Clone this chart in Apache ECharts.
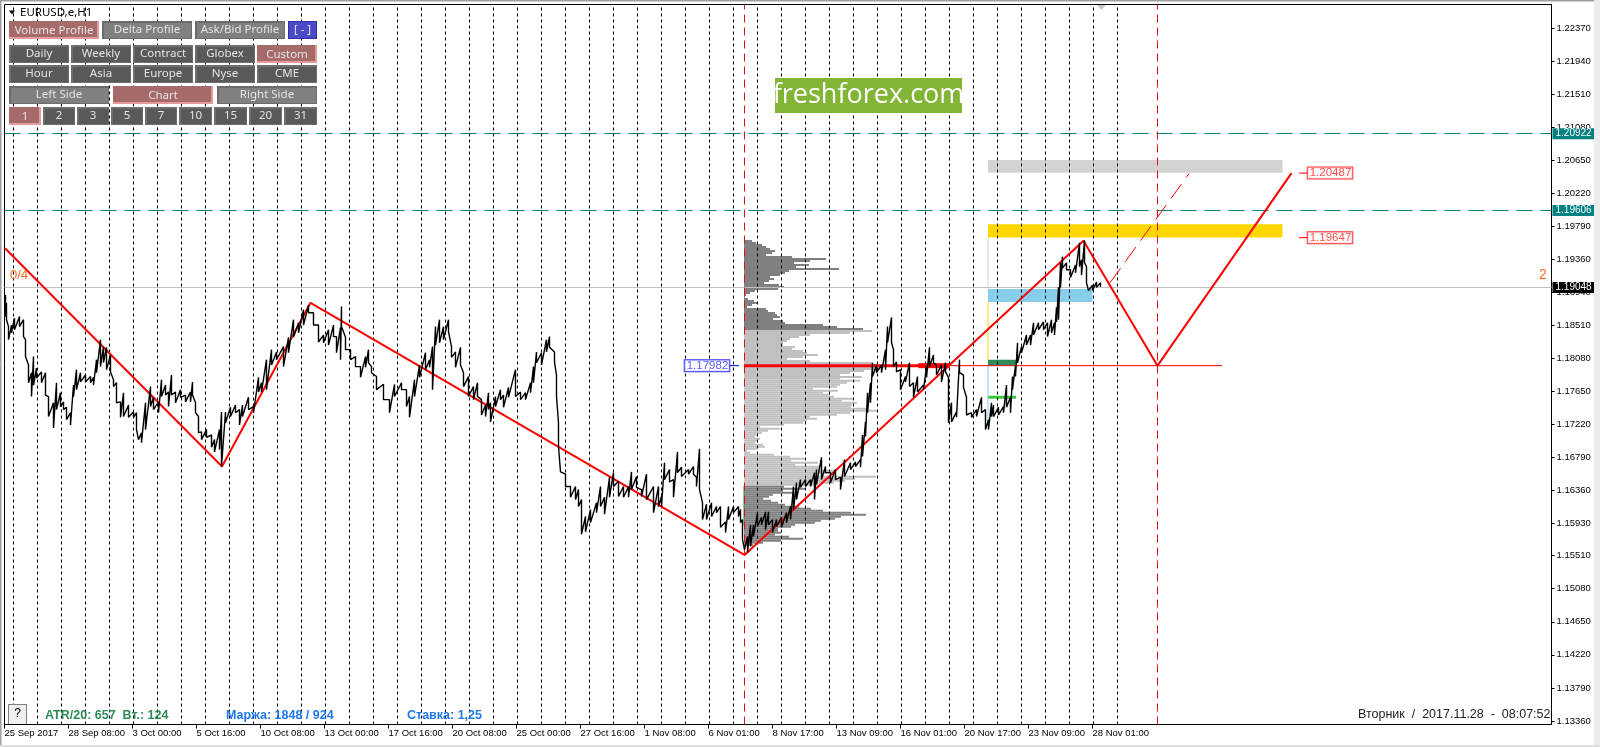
<!DOCTYPE html>
<html><head><meta charset="utf-8">
<style>html,body{margin:0;padding:0;background:#fff}#c{width:1600px;height:747px}</style>
<script src="https://cdn.jsdelivr.net/npm/echarts@6/dist/echarts.min.js"></script>
</head><body><div id="c"></div>
<script>
const priceTicks=[1.2237,1.2194,1.2151,1.2108,1.2065,1.2022,1.1979,1.1936,1.1894,1.1851,1.1808,1.1765,1.1722,1.1679,1.1636,1.1593,1.1551,1.1508,1.1465,1.1422,1.1379,1.1336];
const dateTickBars=[0,64,128,192,256,320,384,448,512,576,640,704,768,832,896,960,1024,1088];
const dateTickLabels=["25 Sep 2017","28 Sep 08:00","3 Oct 00:00","5 Oct 16:00","10 Oct 08:00","13 Oct 00:00","17 Oct 16:00","20 Oct 08:00","25 Oct 00:00","27 Oct 16:00","1 Nov 08:00","6 Nov 01:00","8 Nov 17:00","13 Nov 09:00","16 Nov 01:00","20 Nov 17:00","23 Nov 09:00","28 Nov 01:00"];
const dayBars=[8.5,32.5,56.5,80.5,104.5,128.5,152.5,176.5,200.5,224.5,248.5,272.5,296.5,320.5,344.5,368.5,392.5,416.5,440.5,464.5,488.5,512.5,536.5,560.5,584.5,608.5,632.5,656.5,680.5,704.5,728.5,752.5,776.5,800.5,824.5,848.5,872.5,896.5,920.5,944.5,968.5,992.5,1016.5,1040.5,1064.5,1088.5,1112.5];
// bar, high, low (hourly price, sampled)
const priceBars=[[1,1.1890,1.1862],[2,1.1880,1.1858],[4,1.1849,1.1832],[7,1.1851,1.1841],[10,1.1860,1.1845],[15,1.1862,1.1849],[19,1.1858,1.1836],[21,1.1832,1.1810],[24,1.1799,1.1776],[27,1.1789,1.1758],[29,1.1810,1.1773],[32,1.1795,1.1782],[37,1.1790,1.1776],[41,1.1789,1.1760],[44,1.1758,1.1732],[49,1.1750,1.1717],[52,1.1776,1.1741],[56,1.1763,1.1745],[59,1.1751,1.1741],[62,1.1744,1.1728],[66,1.1737,1.1721],[69,1.1773,1.1758],[72,1.1793,1.1767],[76,1.1789,1.1777],[81,1.1786,1.1777],[86,1.1784,1.1776],[89,1.1783,1.1773],[92,1.1806,1.1789],[96,1.1832,1.1797],[99,1.1823,1.1802],[102,1.1822,1.1793],[106,1.1812,1.1790],[109,1.1780,1.1771],[112,1.1776,1.1750],[116,1.1751,1.1731],[119,1.1763,1.1732],[124,1.1747,1.1731],[129,1.1738,1.1731],[132,1.1737,1.1715],[134,1.1715,1.1702],[137,1.1711,1.1698],[141,1.1750,1.1715],[146,1.1771,1.1745],[149,1.1757,1.1741],[154,1.1751,1.1737],[157,1.1780,1.1758],[161,1.1773,1.1760],[164,1.1764,1.1745],[167,1.1786,1.1760],[171,1.1764,1.1750],[176,1.1767,1.1757],[181,1.1760,1.1751],[186,1.1764,1.1751],[188,1.1777,1.1760],[191,1.1750,1.1737],[194,1.1732,1.1711],[197,1.1712,1.1702],[202,1.1715,1.1705],[207,1.1708,1.1692],[210,1.1702,1.1686],[215,1.1715,1.1689],[217,1.1738,1.1667],[221,1.1738,1.1724],[226,1.1744,1.1732],[231,1.1747,1.1737],[235,1.1741,1.1721],[238,1.1747,1.1732],[244,1.1757,1.1741],[249,1.1745,1.1737],[254,1.1783,1.1764],[257,1.1776,1.1764],[262,1.1806,1.1767],[267,1.1819,1.1799],[272,1.1816,1.1806],[279,1.1823,1.1797],[284,1.1835,1.1815],[289,1.1858,1.1835],[294,1.1854,1.1841],[299,1.1871,1.1851],[304,1.1877,1.1867],[309,1.1867,1.1851],[314,1.1851,1.1829],[319,1.1838,1.1828],[324,1.1845,1.1825],[329,1.1851,1.1836],[332,1.1836,1.1815],[336,1.1848,1.1806],[337,1.1875,1.1849],[341,1.1835,1.1819],[346,1.1819,1.1806],[351,1.1810,1.1797],[356,1.1797,1.1783],[361,1.1810,1.1796],[364,1.1819,1.1802],
[367,1.1797,1.1789],[372,1.1784,1.1767],[379,1.1774,1.1754],[385,1.1754,1.1737],[390,1.1774,1.1758],[397,1.1776,1.1767],[402,1.1767,1.1745],[405,1.1758,1.1731],[410,1.1780,1.1758],[415,1.1799,1.1783],[421,1.1815,1.1793],[425,1.1806,1.1796],[428,1.1823,1.1767],[431,1.1849,1.1825],[435,1.1858,1.1828],[439,1.1849,1.1832],[444,1.1858,1.1842],[447,1.1823,1.1809],[451,1.1816,1.1796],[456,1.1822,1.1799],[459,1.1789,1.1771],[464,1.1784,1.1758],[469,1.1771,1.1754],[473,1.1776,1.1758],[477,1.1754,1.1734],[481,1.1747,1.1732],[484,1.1763,1.1741],[486,1.1750,1.1725],[491,1.1758,1.1745],[496,1.1767,1.1754],[499,1.1760,1.1744],[504,1.1770,1.1757],[511,1.1793,1.1758],[516,1.1764,1.1754],[521,1.1763,1.1754],[526,1.1776,1.1763],[529,1.1797,1.1776],[532,1.1816,1.1802],[537,1.1815,1.1799],[542,1.1832,1.1816],[545,1.1836,1.1822],[550,1.1816,1.1803],[552,1.1786,1.1758],[554,1.1724,1.1693],[556,1.1693,1.1660],[561,1.1657,1.1641],[566,1.1641,1.1627],[571,1.1641,1.1624],[574,1.1637,1.1615],[577,1.1624,1.1579],[581,1.1602,1.1582],[586,1.1611,1.1594],[592,1.1620,1.1607],[596,1.1641,1.1615],[600,1.1627,1.1605],[605,1.1653,1.1627],[609,1.1659,1.1641],[614,1.1648,1.1628],[619,1.1641,1.1627],[624,1.1641,1.1627],[627,1.1660,1.1637],[632,1.1654,1.1640],[637,1.1637,1.1628],[642,1.1657,1.1624],[649,1.1641,1.1607],[654,1.1641,1.1615],[657,1.1628,1.1615],[660,1.1672,1.1650],[665,1.1663,1.1647],[669,1.1650,1.1627],[673,1.1686,1.1659],[677,1.1666,1.1654],[684,1.1663,1.1657],[689,1.1667,1.1657],[692,1.1653,1.1641],[695,1.1690,1.1637],[698,1.1620,1.1598],[702,1.1618,1.1598],[707,1.1620,1.1602],[712,1.1615,1.1607],[716,1.1615,1.1588],[721,1.1595,1.1581],[724,1.1615,1.1598],[729,1.1615,1.1607],[734,1.1615,1.1602],
[736,1.1611,1.1594],[738,1.1598,1.1572],[740,1.1572,1.1559],[743,1.1576,1.1555],[746,1.1591,1.1563],[749,1.1591,1.1576],[753,1.1607,1.1589],[757,1.1601,1.1591],[761,1.1608,1.1585],[764,1.1608,1.1591],[768,1.1598,1.1581],[772,1.1598,1.1589],[777,1.1601,1.1588],[782,1.1607,1.1594],[786,1.1615,1.1598],[789,1.1641,1.1611],[792,1.1646,1.1624],[796,1.1650,1.1640],[801,1.1650,1.1641],[806,1.1650,1.1641],[810,1.1659,1.1624],[812,1.1663,1.1644],[817,1.1679,1.1650],[821,1.1667,1.1659],[826,1.1659,1.1646],[831,1.1663,1.1650],[836,1.1653,1.1637],[840,1.1676,1.1654],[846,1.1672,1.1663],[851,1.1673,1.1667],[856,1.1676,1.1666],[858,1.1708,1.1680],[861,1.1725,1.1706],[863,1.1763,1.1737],[866,1.1776,1.1750],[868,1.1802,1.1784],[872,1.1799,1.1789],[877,1.1799,1.1789],[881,1.1819,1.1793],[883,1.1849,1.1828],[887,1.1861,1.1828],[889,1.1819,1.1797],[892,1.1803,1.1790],[896,1.1793,1.1767],[901,1.1784,1.1777],[905,1.1802,1.1771],[909,1.1776,1.1757],[913,1.1784,1.1764],[919,1.1773,1.1767],[922,1.1797,1.1783],[925,1.1822,1.1797],[929,1.1812,1.1802],[932,1.1799,1.1786],[937,1.1799,1.1777],[941,1.1802,1.1790],[944,1.1783,1.1724],[947,1.1750,1.1725],[952,1.1738,1.1731],[955,1.1806,1.1789],[959,1.1786,1.1770],[962,1.1757,1.1734],[967,1.1737,1.1731],[972,1.1741,1.1732],[977,1.1757,1.1737],[981,1.1741,1.1715],[984,1.1728,1.1715],[987,1.1750,1.1732],
[989,1.1747,1.1732],[994,1.1744,1.1734],[999,1.1745,1.1737],[1002,1.1773,1.1744],[1006,1.1757,1.1737],[1008,1.1784,1.1767],[1011,1.1799,1.1784],[1013,1.1828,1.1802],[1017,1.1823,1.1815],[1022,1.1838,1.1825],[1026,1.1838,1.1825],[1029,1.1854,1.1838],[1034,1.1854,1.1845],[1039,1.1855,1.1845],[1043,1.1854,1.1836],[1047,1.1858,1.1841],[1050,1.1854,1.1838],[1052,1.1874,1.1855],[1054,1.1900,1.1858],[1056,1.1932,1.1900],[1058,1.1940,1.1925],[1062,1.1932,1.1923],[1066,1.1923,1.1913],[1071,1.1929,1.1919],[1075,1.1958,1.1927],[1077,1.1936,1.1916],[1080,1.1961,1.1932],[1082,1.1927,1.1906],[1084,1.1907,1.1896],[1088,1.1903,1.1896],[1092,1.1907,1.1900],[1096,1.1906,1.1901]];
const zigzag=[[0.5,1.1951],[217.5,1.1667],[306,1.1880],[740,1.1552],[1079,1.19606],[1153,1.17982],[1287,1.20487]];
const forecastLine=[[1105.5,1.1906],[1184.5,1.2048]];
const profileTopPrice=1.19604, profileRowStep=0.00026;
const profileVolumes=[8,12,18,22,26,31,28,22,48,82,66,50,65,52,95,45,41,36,26,30,25,20,35,40,34,11,6,2,1,4,10,13,8,3,22,24,31,33,36,29,39,41,79,93,119,128,106,66,55,46,43,39,39,51,48,59,63,74,59,43,66,128,134,136,136,120,106,96,118,96,116,103,96,93,69,94,79,86,90,109,98,113,108,107,123,134,106,93,66,73,63,59,40,16,36,24,18,14,11,16,13,11,19,21,13,3,6,30,46,62,47,74,51,76,76,91,90,71,132,111,101,90,74,40,62,39,49,29,25,19,27,34,41,55,67,79,107,122,97,91,77,71,51,47,34,34,37,31,45,59,37,19,9];
const valueAreaHigh=1.18458, valueAreaLow=1.16417;
const zoneRanges=[[983.5,1278,1.20658,1.2049],[983.5,1278,1.1982,1.1965],[983.5,1088,1.1898,1.1881],[983.5,1011.5,1.1806,1.1798],[983.5,1011.5,1.1759,1.1755]];
const zoneColors=['#d3d3d3','#ffd700','#87ceeb','#2e8b57','#32cd32'];
const levels=[1.20922,1.19606,1.19048];
const pocPrice=1.17982;
const targets=[1.20487,1.19647];
const zoneEdges=[[1.19655,1.1898],[1.1881,1.1806],[1.1798,1.1721]];
const zoneEdgeColors=['#d3d3d3','#ffd700','#87ceeb'];

const FONT='"Liberation Sans"';
const chart=echarts.init(document.getElementById('c'),null,{renderer:'canvas'});
const zig=[];priceBars.forEach(b=>{zig.push([b[0],b[1]]);zig.push([b[0],b[2]]);});
const rows=profileVolumes.map((v,i)=>[profileTopPrice-i*profileRowStep,v]);
const line=(data,color,width,z,dash)=>({type:'line',data,showSymbol:false,silent:true,animation:false,z,lineStyle:{color,width,type:dash||'solid'},clip:true});
const tag=(x,p,color,border)=>({type:'scatter',data:[[x,p]],symbolSize:0,silent:true,animation:false,z:8,
 label:{show:true,position:'inside',formatter:()=>p.toFixed(5),color,fontFamily:FONT,fontSize:11.5,backgroundColor:'#fff',borderColor:border,borderWidth:1,padding:[0,1,0,2],lineHeight:11}});
const lvl=(p,color,lineColor,dash)=>({yAxis:p,lineStyle:{color:lineColor,type:dash,width:1},
 label:{show:true,position:'end',distance:1,formatter:()=>p.toFixed(5),color:'#fff',backgroundColor:color,fontFamily:FONT,fontSize:10,padding:[1,4,1,3],lineHeight:9}});

const series=[
 {type:'line',data:[],silent:true,animation:false,z:1,
  markLine:{silent:true,symbol:'none',animation:false,label:{show:false},
   data:dayBars.map(x=>({xAxis:x,lineStyle:{color:'#000',type:[3,3],width:1}}))}},
 {type:'custom',silent:true,animation:false,z:2,clip:true,data:zoneRanges.map((r,i)=>[...r,i]),encode:{x:[0,1],y:[2,3]},
  renderItem:(p,api)=>{const a=api.coord([api.value(0),api.value(2)]),b=api.coord([api.value(1),api.value(3)]);
   return {type:'rect',shape:{x:a[0],y:a[1],width:b[0]-a[0],height:b[1]-a[1]},style:{fill:zoneColors[api.value(4)]}};}},
 {type:'custom',silent:true,animation:false,z:3,clip:true,data:rows,encode:{x:1,y:0},
  renderItem:(p,api)=>{const pr=api.value(0);const a=api.coord([739.5,pr+profileRowStep/2]),b=api.coord([739.5+api.value(1),pr-profileRowStep/2]);
   const light=pr<valueAreaHigh&&pr>valueAreaLow;
   return {type:'rect',shape:{x:a[0],y:a[1],width:b[0]-a[0],height:b[1]-a[1]},style:{fill:light?'#c0c0c0':'#808080'}};}},
 {type:'line',data:[],silent:true,animation:false,z:4,
  markLine:{silent:true,symbol:'none',animation:false,
   data:[lvl(levels[0],'#008080','#008080',[16,8]),lvl(levels[1],'#008080','#008080',[16,8]),lvl(levels[2],'#000','#c0c0c0','solid'),
    {xAxis:739.5,label:{show:false},lineStyle:{color:'#e01010',type:[8,5],width:1}},
    {xAxis:1153,label:{show:false},lineStyle:{color:'#e01010',type:[8,5],width:1}}]}},
 ...zoneEdges.map((e,i)=>line([[983.5,e[0]],[983.5,e[1]]],zoneEdgeColors[i],1,4)),
 line([[739.5,1.1642],[739.5,1.1590]],'#2e8b57',1,4),
 line([[739.5,pocPrice],[945,pocPrice]],'#ff0000',3,5),
 line([[914,pocPrice],[945,pocPrice]],'#ff0000',5,5),
 line([[945,pocPrice],[1217.5,pocPrice]],'#ff0000',1,5),
 line(zigzag,'#ff0000',2,5),
 line(forecastLine,'#ff0000',1,5,[18,8]),
 line(zig,'#000',1.4,6),
 line([[1294.5,targets[0]],[1304.5,targets[0]]],'#ff0000',1,7),
 line([[1294.5,targets[1]],[1304.5,targets[1]]],'#ff0000',1,7),
 line([[723.5,pocPrice],[734.5,pocPrice]],'#0000ff',1,7),
 tag(1325.5,targets[0],'#ff2020','#ff0000'),
 tag(1325.5,targets[1],'#ff2020','#ff0000'),
 tag(702.5,pocPrice,'#3030ff','#0000ff')
];

// control panel (page furniture, not data)
const g=[];
const T=(text,x,y,o)=>g.push({type:'text',x,y,silent:true,z:20,style:Object.assign({text,fill:'#000',font:'12px '+FONT,textVerticalAlign:'middle'},o||{})});
const R=(x,y,w,h,fill)=>g.push({type:'rect',silent:true,z:19,shape:{x,y,width:w,height:h},style:{fill}});
const btn=(label,x0,x1,y0,y1,kind)=>{const w=x1-x0,h=y1-y0;
 if(kind==='red'){R(x0,y0,w,h,'#e39b9b');R(x0,y0,w-2,h-2,'#a76a6a');}
 else if(kind==='blue'){R(x0,y0,w,h,'#3030a0');R(x0+1,y0+1,w-2,h-2,'#4a4ac8');}
 else if(kind==='mid'){R(x0,y0,w,h,'#6c6c6c');R(x0+2,y0+2,w-3,h-3,'#808080');}
 else {R(x0,y0,w,h,'#6e6e6e');R(x0+2,y0+2,w-3,h-3,'#595959');}
 T(label,(x0+x1)/2,(y0+y1)/2+(kind==='red'?0.5:0),{fill:'#e4e4e4',textAlign:'center',font:'11.5px "Noto Sans"'});
};
btn('Volume Profile',9,99,21,39,'red');btn('Delta Profile',102,192,21,39,'mid');btn('Ask/Bid Profile',195,285,21,39,'mid');btn('[ - ]',288,317,21,39,'blue');
[['Daily',9,69],['Weekly',71,131],['Contract',133,193],['Globex',195,255]].forEach(a=>btn(a[0],a[1],a[2],45,63,'dark'));btn('Custom',257,317,45,63,'red');
[['Hour',9,69],['Asia',71,131],['Europe',133,193],['Nyse',195,255],['CME',257,317]].forEach(a=>btn(a[0],a[1],a[2],65,83,'dark'));
btn('Left Side',9,109,86,104,'mid');btn('Chart',113,213,86,104,'red');btn('Right Side',217,317,86,104,'mid');
btn('1',9,41,107,125,'red');[['2',43,75],['3',77,109],['5',111,143],['7',145,177],['10',179,212],['15',214,247],['20',249,282],['31',284,317]].forEach(a=>btn(a[0],a[1],a[2],107,125,'dark'));
g.push({type:'polygon',silent:true,z:20,shape:{points:[[9,10.5],[15,10.5],[12,14.5]]},style:{fill:'#000'}});
T('EURUSD,e,H1',20,12.5,{font:'11.5px "Noto Sans"'});
R(775,78,187,35,'#82b536');
T('freshforex.com',868.5,95,{fill:'#fff',textAlign:'center',font:'27px "Open Sans"'});
g.push({type:'polygon',silent:true,z:20,shape:{points:[[1097,5],[1106,5],[1101.5,10]]},style:{fill:'#c8c8c8'}});
T('0/4',10,275,{fill:'#ff6a20',font:'13px '+FONT});
T('2',1539,275,{fill:'#ff6a20',font:'14px '+FONT});
R(8,704,19,20,'#808080');R(9,705,17,19,'#f0f0f0');
T('?',17.5,714,{textAlign:'center',font:'12px '+FONT});
T('ATR/20: 657  Вт.: 124',45,716,{fill:'#2e8b57',font:'bold 12.5px '+FONT});
T('Маржа: 1848 / 924',226,716,{fill:'#1e78f0',font:'bold 12.5px '+FONT});
T('Ставка: 1,25',407,716,{fill:'#1e78f0',font:'bold 12.5px '+FONT});
T('Вторник  /  2017.11.28  -  08:07:52',1358,714.5,{fill:'#202020',font:'12.5px '+FONT});
R(0,0,1600,1.5,'#a0a0a0');R(0,0,1.5,747,'#a0a0a0');R(1594,0,6,747,'#ececec');R(0,745,1600,2,'#e0e0e0');

chart.setOption({
 animation:false,backgroundColor:'#fff',
 grid:{left:4.5,top:4.5,width:1547,height:720,show:true,borderColor:'#000',borderWidth:1,backgroundColor:'#fff',containLabel:false},
 xAxis:{type:'value',min:0,max:1547,splitLine:{show:false},axisLine:{show:true,lineStyle:{color:'#000'}},
  axisTick:{show:true,length:4,customValues:dateTickBars,lineStyle:{color:'#000'}},
  axisLabel:{show:true,customValues:dateTickBars,align:'left',margin:4,color:'#000',fontFamily:FONT,fontSize:9.5,
   formatter:v=>dateTickLabels[dateTickBars.indexOf(v)]||''}},
 yAxis:{type:'value',position:'right',min:1.13314,max:1.2268,scale:true,splitLine:{show:false},axisLine:{show:true,onZero:false,lineStyle:{color:'#000'}},
  axisTick:{show:true,length:3,customValues:priceTicks,lineStyle:{color:'#000'}},
  axisLabel:{show:true,customValues:priceTicks,margin:5,color:'#000',fontFamily:FONT,fontSize:9.5,formatter:v=>v.toFixed(5)}},
 tooltip:{show:false},legend:{show:false},
 series,graphic:{elements:g}
});
</script></body></html>
